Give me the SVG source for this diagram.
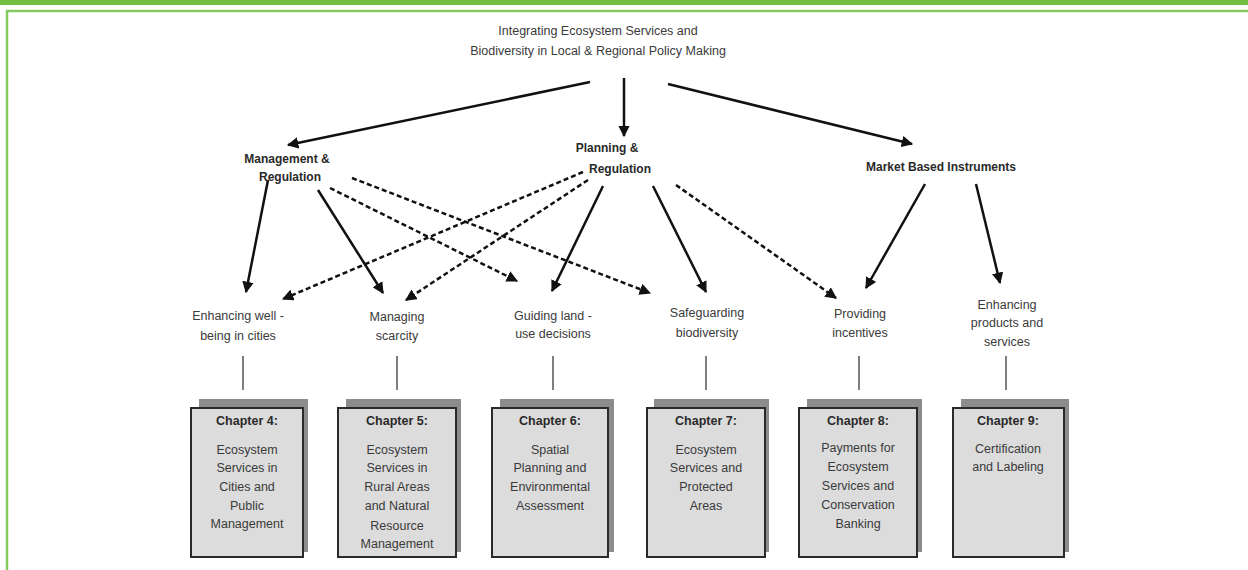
<svg xmlns="http://www.w3.org/2000/svg" width="1248" height="570" viewBox="0 0 1248 570">
<defs>
<marker id="ah" viewBox="0 0 10 10" refX="9" refY="5" markerWidth="4.6" markerHeight="4.6" orient="auto" markerUnits="strokeWidth">
<path d="M0,0 L10,5 L0,10 z" fill="#111"/>
</marker>
<style>
.t{font-family:"Liberation Sans",Arial,sans-serif;font-size:12.5px;fill:#3a3a3a;text-anchor:middle}
.b{font-family:"Liberation Sans",Arial,sans-serif;font-size:12px;font-weight:bold;fill:#2a2a2a;text-anchor:middle}
.c{font-family:"Liberation Sans",Arial,sans-serif;font-size:12.5px;fill:#3a3a3a;text-anchor:middle}
.cb{font-family:"Liberation Sans",Arial,sans-serif;font-size:12.5px;font-weight:bold;fill:#2a2a2a;text-anchor:middle}
.s{stroke:#111;stroke-width:2.5;fill:none;marker-end:url(#ah)}
.d{stroke:#111;stroke-width:2.5;fill:none;stroke-dasharray:5 3;marker-end:url(#ah)}
.tick{stroke:#555;stroke-width:1.5}
.sh{fill:#8c8c8c}
.bx{fill:#dcdcdc;stroke:#2a2a2a;stroke-width:2}
</style>
</defs>
<rect x="0" y="0" width="1248" height="5" fill="#72bf44"/>
<path d="M7,570 V11 H1248" fill="none" stroke="#86c95f" stroke-width="2.5"/>

<g id="title">
<text class="t" x="598" y="35">Integrating Ecosystem Services and</text>
<text class="t" x="598" y="55">Biodiversity in Local &amp; Regional Policy Making</text>
</g>

<g id="mgmt">
<text class="b" x="287" y="163">Management &amp;</text>
<text class="b" x="290" y="181">Regulation</text>
</g>
<g id="planning">
<text class="b" x="607" y="152">Planning &amp;</text>
<text class="b" x="620" y="173">Regulation</text>
</g>
<g id="market">
<text class="b" x="941" y="171">Market Based Instruments</text>
</g>

<g id="enh-wellbeing">
<text class="t" x="238" y="320">Enhancing well -</text>
<text class="t" x="238" y="340">being in cities</text>
</g>
<g id="managing">
<text class="t" x="397" y="321">Managing</text>
<text class="t" x="397" y="340">scarcity</text>
</g>
<g id="guiding">
<text class="t" x="553" y="320">Guiding land -</text>
<text class="t" x="553" y="338">use decisions</text>
</g>
<g id="safeguarding">
<text class="t" x="707" y="317">Safeguarding</text>
<text class="t" x="707" y="337">biodiversity</text>
</g>
<g id="providing">
<text class="t" x="860" y="318">Providing</text>
<text class="t" x="860" y="337">incentives</text>
</g>
<g id="enh-products">
<text class="t" x="1007" y="309">Enhancing</text>
<text class="t" x="1007" y="327">products and</text>
<text class="t" x="1007" y="346">services</text>
</g>

<g id="connectors">
<line class="s" x1="590" y1="82" x2="288" y2="145"/>
<line class="s" x1="624" y1="78" x2="624" y2="136"/>
<line class="s" x1="668" y1="84" x2="912" y2="144"/>
<line class="s" x1="268" y1="180" x2="246" y2="292"/>
<line class="s" x1="318" y1="190" x2="383" y2="293"/>
<line class="d" x1="330" y1="188" x2="517" y2="281"/>
<line class="d" x1="352" y1="178" x2="650" y2="293"/>
<line class="d" x1="583" y1="172" x2="283" y2="299"/>
<line class="d" x1="588" y1="180" x2="406" y2="300"/>
<line class="s" x1="603" y1="186" x2="552" y2="291"/>
<line class="s" x1="653" y1="186" x2="706" y2="292"/>
<line class="d" x1="676" y1="185" x2="836" y2="298"/>
<line class="s" x1="925" y1="184" x2="866" y2="288"/>
<line class="s" x1="976" y1="184" x2="1000" y2="283"/>
<line class="tick" x1="243" y1="356" x2="243" y2="390"/>
<line class="tick" x1="397" y1="356" x2="397" y2="390"/>
<line class="tick" x1="553" y1="356" x2="553" y2="390"/>
<line class="tick" x1="706" y1="356" x2="706" y2="390"/>
<line class="tick" x1="859" y1="356" x2="859" y2="390"/>
<line class="tick" x1="1006" y1="356" x2="1006" y2="390"/>
</g>

<g id="ch4">
<rect class="sh" x="199" y="399" width="109" height="153"/>
<rect class="bx" x="191" y="408" width="112" height="149"/>
<text class="cb" x="247" y="425">Chapter 4:</text>
<text class="c" x="247" y="454">Ecosystem</text>
<text class="c" x="247" y="472">Services in</text>
<text class="c" x="247" y="491">Cities and</text>
<text class="c" x="247" y="510">Public</text>
<text class="c" x="247" y="528">Management</text>
</g>
<g id="ch5">
<rect class="sh" x="346" y="399" width="115" height="153"/>
<rect class="bx" x="338" y="408" width="118" height="149"/>
<text class="cb" x="397" y="425">Chapter 5:</text>
<text class="c" x="397" y="454">Ecosystem</text>
<text class="c" x="397" y="472">Services in</text>
<text class="c" x="397" y="491">Rural Areas</text>
<text class="c" x="397" y="510">and Natural</text>
<text class="c" x="397" y="530">Resource</text>
<text class="c" x="397" y="548">Management</text>
</g>
<g id="ch6">
<rect class="sh" x="500" y="399" width="114" height="153"/>
<rect class="bx" x="492" y="408" width="116" height="149"/>
<text class="cb" x="550" y="425">Chapter 6:</text>
<text class="c" x="550" y="454">Spatial</text>
<text class="c" x="550" y="472">Planning and</text>
<text class="c" x="550" y="491">Environmental</text>
<text class="c" x="550" y="510">Assessment</text>
</g>
<g id="ch7">
<rect class="sh" x="654" y="399" width="115" height="153"/>
<rect class="bx" x="647" y="408" width="118" height="149"/>
<text class="cb" x="706" y="425">Chapter 7:</text>
<text class="c" x="706" y="454">Ecosystem</text>
<text class="c" x="706" y="472">Services and</text>
<text class="c" x="706" y="491">Protected</text>
<text class="c" x="706" y="510">Areas</text>
</g>
<g id="ch8">
<rect class="sh" x="807" y="399" width="115" height="153"/>
<rect class="bx" x="799" y="408" width="118" height="149"/>
<text class="cb" x="858" y="425">Chapter 8:</text>
<text class="c" x="858" y="452">Payments for</text>
<text class="c" x="858" y="471">Ecosystem</text>
<text class="c" x="858" y="490">Services and</text>
<text class="c" x="858" y="509">Conservation</text>
<text class="c" x="858" y="528">Banking</text>
</g>
<g id="ch9">
<rect class="sh" x="961" y="399" width="108" height="153"/>
<rect class="bx" x="953" y="408" width="111" height="149"/>
<text class="cb" x="1008" y="425">Chapter 9:</text>
<text class="c" x="1008" y="453">Certification</text>
<text class="c" x="1008" y="471">and Labeling</text>
</g>
</svg>
